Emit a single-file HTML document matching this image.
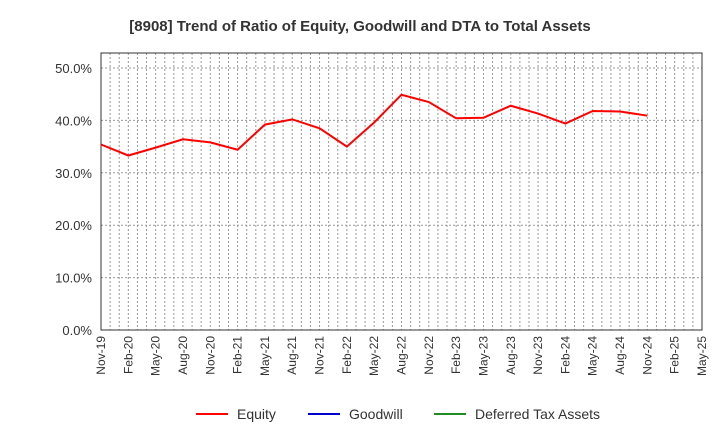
<!DOCTYPE html>
<html><head><meta charset="utf-8"><style>
body{margin:0;background:#fff;font-family:"Liberation Sans",sans-serif}
</style></head><body>
<svg width="720" height="440" xmlns="http://www.w3.org/2000/svg">
<text x="360" y="31" text-anchor="middle" font-size="15" font-weight="bold" fill="#333">[8908]  Trend of Ratio of Equity, Goodwill and DTA to Total Assets</text>
<g id="grid"></g>
<g id="yaxis"></g>
<g id="xaxis"></g>
<rect x="101" y="53" width="601" height="277" fill="none" stroke="#333"/>
<polyline id="equity" fill="none" stroke="#ff0000" stroke-width="2"/>
<g>
<line x1="196" y1="414" x2="228" y2="414" stroke="#ff0000" stroke-width="2"/>
<text x="237" y="419" font-size="14" fill="#333">Equity</text>
<line x1="308" y1="414" x2="340" y2="414" stroke="#0000cc" stroke-width="2"/>
<text x="349" y="419" font-size="14" fill="#333">Goodwill</text>
<line x1="434" y1="414" x2="466" y2="414" stroke="#228b22" stroke-width="2"/>
<text x="475" y="419" font-size="14" fill="#333">Deferred Tax Assets</text>
</g>
</svg>
<script>
const xLabels=["Nov-19","Feb-20","May-20","Aug-20","Nov-20","Feb-21","May-21","Aug-21","Nov-21","Feb-22","May-22","Aug-22","Nov-22","Feb-23","May-23","Aug-23","Nov-23","Feb-24","May-24","Aug-24","Nov-24","Feb-25","May-25"];
const equity=[35.4,33.3,34.8,36.4,35.8,34.4,39.2,40.2,38.5,35.0,39.6,44.9,43.5,40.4,40.5,42.8,41.3,39.4,41.8,41.7,40.9];
const yTicks=[0,10,20,30,40,50];
const ns="http://www.w3.org/2000/svg";
const X0=101,X1=702,Y0=330,PX=5.24;
const xq=i=>X0+i*(X1-X0)/(xLabels.length-1);
const y=v=>Y0-v*PX;
const grid=document.getElementById('grid'),ya=document.getElementById('yaxis'),xa=document.getElementById('xaxis');
function mk(t,a,p){const e=document.createElementNS(ns,t);for(const k in a)e.setAttribute(k,a[k]);p.appendChild(e);return e;}
const nm=(xLabels.length-1)*3;
for(let m=1;m<nm;m++){const x=X0+m*(X1-X0)/nm;
const l=mk('line',{x1:x,x2:x,y1:53,y2:330,stroke:'#999','stroke-dasharray':'2,2'},grid);

}
yTicks.forEach(v=>{
const l=mk('line',{x1:X0,x2:X1,y1:y(v),y2:y(v),stroke:'#999','stroke-dasharray':'2,2'},grid);


const t=mk('text',{x:92,y:y(v)+5,'text-anchor':'end','font-size':13,fill:'#333'},ya);
t.textContent=v.toFixed(1)+'%';

});
xLabels.forEach((s,i)=>{const x=xq(i);
const t=mk('text',{x:x+4,y:336,'text-anchor':'end','font-size':12,fill:'#333',transform:`rotate(-90 ${x+4} 336)`},xa);
t.textContent=s;

});
document.getElementById('equity').setAttribute('points',equity.map((v,i)=>xq(i)+','+y(v)).join(' '));
</script>
</body></html>
